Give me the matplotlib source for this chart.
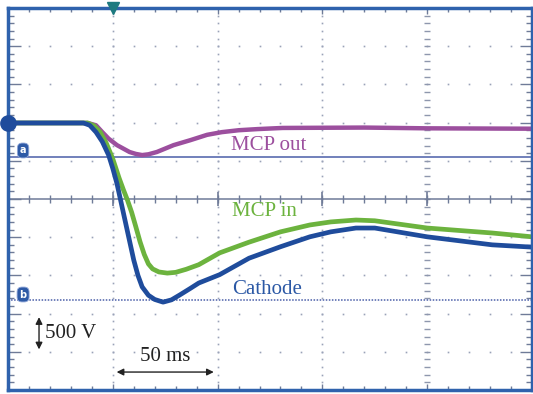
import numpy as np
import matplotlib.pyplot as plt

# 時間 (ms) 與縱向讀數 (格, 500 V/div)
t_cath = [-50, -14, -11, -8, -5, -2, 0, 2, 4, 6, 8, 10, 12, 14, 17, 20, 24, 28, 32, 37, 41,
          51, 65, 80, 94, 104, 116, 125, 150, 181, 200]
v_cath = [6.99, 6.99, 6.93, 6.75, 6.50, 6.15, 5.80, 5.40, 4.90, 4.40, 3.90, 3.40, 3.00, 2.70,
          2.48, 2.37, 2.30, 2.36, 2.49, 2.66, 2.80, 3.02, 3.45, 3.75, 4.01, 4.14, 4.24, 4.24,
          4.01, 3.80, 3.74]

t_in = [-50, -12, -9, -6, -3, 0, 3, 5, 7, 9, 11, 13, 15, 17, 19, 22, 26, 30, 35, 41,
        51, 65, 80, 94, 104, 116, 125, 150, 181, 200]
v_in = [6.99, 6.99, 6.92, 6.75, 6.45, 6.05, 5.55, 5.25, 4.97, 4.65, 4.27, 3.88, 3.55, 3.30,
        3.17, 3.09, 3.06, 3.08, 3.16, 3.28, 3.59, 3.87, 4.14, 4.32, 4.40, 4.45, 4.43, 4.24,
        4.11, 4.01]

t_out = [-50, -12, -8, -5, -2, 2, 5, 8, 11, 14, 17, 21, 25, 29, 37, 45, 52, 60, 69, 81,
         120, 150, 200]
v_out = [6.99, 6.99, 6.93, 6.75, 6.58, 6.41, 6.32, 6.23, 6.18, 6.15, 6.17, 6.23, 6.32, 6.41,
         6.54, 6.68, 6.75, 6.80, 6.83, 6.86, 6.87, 6.85, 6.84]

labels = ['MCP out', 'MCP in', 'Cathode']
ref_a = 6.10
ref_b = 2.36

c_out = '#9c4f9e'
c_in = '#6cb33e'
c_cath = '#1f4c9c'
frame = '#2f62ad'
tickc = '#6f7b98'

fig = plt.figure(figsize=(5.33, 3.94), dpi=100)
ax = fig.add_axes([8 / 533, 1 - 390 / 394, 524 / 533, 382 / 394])
ax.set_xlim(-50, 200)
ax.set_ylim(0, 10)

# 外框與刻度
for s in ax.spines.values():
    s.set_color(frame)
    s.set_linewidth(2.5)
ax.set_xticks(np.arange(-50, 201, 50))
ax.set_xticks(np.arange(-50, 201, 10), minor=True)
ax.set_yticks(np.arange(0, 11, 1))
ax.set_yticks(np.arange(0, 10.01, 0.2), minor=True)
ax.tick_params(which='both', direction='in', top=True, right=True,
               labelbottom=False, labelleft=False, color=tickc, width=1)
ax.tick_params(axis='x', which='major', length=4)
ax.tick_params(axis='x', which='minor', length=3)
ax.tick_params(axis='y', which='major', length=9)
ax.tick_params(axis='y', which='minor', length=4)

# 點狀格線
gx = np.arange(-50, 201, 10)
gy = np.arange(0, 10.01, 0.2)
for yy in range(1, 10):
    if yy == 5:
        continue
    ax.plot(gx, np.full(len(gx), yy), ls='none', marker='s', ms=1.2, color='#9aa2b8', mew=0)
for xx in [0, 50, 100]:
    ax.plot(np.full(len(gy), xx), gy, ls='none', marker='s', ms=1.2, color='#9aa2b8', mew=0)
ax.plot(np.full(len(gy), 150), gy, ls='none', marker='_', ms=4, color='#8e97ad', mew=1)

# 中心水平軸
ax.axhline(5, color='#6f7b98', lw=1.1)
ax.plot(gx, np.full(len(gx), 5), ls='none', marker='|', ms=6, color='#6f7b98', mew=1)
ax.plot([0, 50, 100, 150], [5] * 4, ls='none', marker='|', ms=10, color='#6f7b98', mew=1.2)

# 參考線 a / b
ax.axhline(ref_a, color='#4a5ea8', lw=1.1)
ax.axhline(ref_b, color='#4a5ea8', lw=1.1, ls=(0, (1, 1)))

# 波形
ax.plot(t_out, v_out, color=c_out, lw=3.2, solid_capstyle='butt')
ax.plot(t_in, v_in, color=c_in, lw=3.4, solid_capstyle='butt')
ax.plot(t_cath, v_cath, color=c_cath, lw=3.4, solid_capstyle='butt')

# 標記
ax.plot([-50], [6.99], marker='o', ms=11, color=c_cath, clip_on=False, zorder=5)
ax.plot([0], [10], marker='v', ms=9, color='#1d7a80', clip_on=False, zorder=5)
for yy, ch in [(6.27, 'a'), (2.5, 'b')]:
    ax.text(-42.8, yy, ch, fontsize=7, color='white', ha='center', va='center',
            fontweight='bold',
            bbox=dict(boxstyle='round,pad=0.25,rounding_size=0.5', fc='#2e5aa6', ec='#8fa6d8', lw=0.6))

serif = 'Liberation Serif'
ax.text(56.5, 6.41, labels[0], color=c_out, fontsize=15, family=serif, va='center')
ax.text(57, 4.66, labels[1], color=c_in, fontsize=15, family=serif, va='center')
ax.text(57, 2.64, labels[2], color='#2b58a5', fontsize=15, family=serif, va='center')

# 比例尺
ax.annotate('', xy=(-35.2, 0.99), xytext=(-35.2, 1.98),
            arrowprops=dict(arrowstyle='<|-|>', color='#222222', lw=1, mutation_scale=10))
ax.text(-32.5, 1.47, '500 V', fontsize=15, family=serif, va='center', color='#222222')
ax.annotate('', xy=(0.5, 0.47), xytext=(49.5, 0.47),
            arrowprops=dict(arrowstyle='<|-|>', color='#222222', lw=1, mutation_scale=10))
ax.text(25, 0.88, '50 ms', fontsize=15, family=serif, ha='center', va='center', color='#222222')

plt.savefig('out.png', dpi=100)
